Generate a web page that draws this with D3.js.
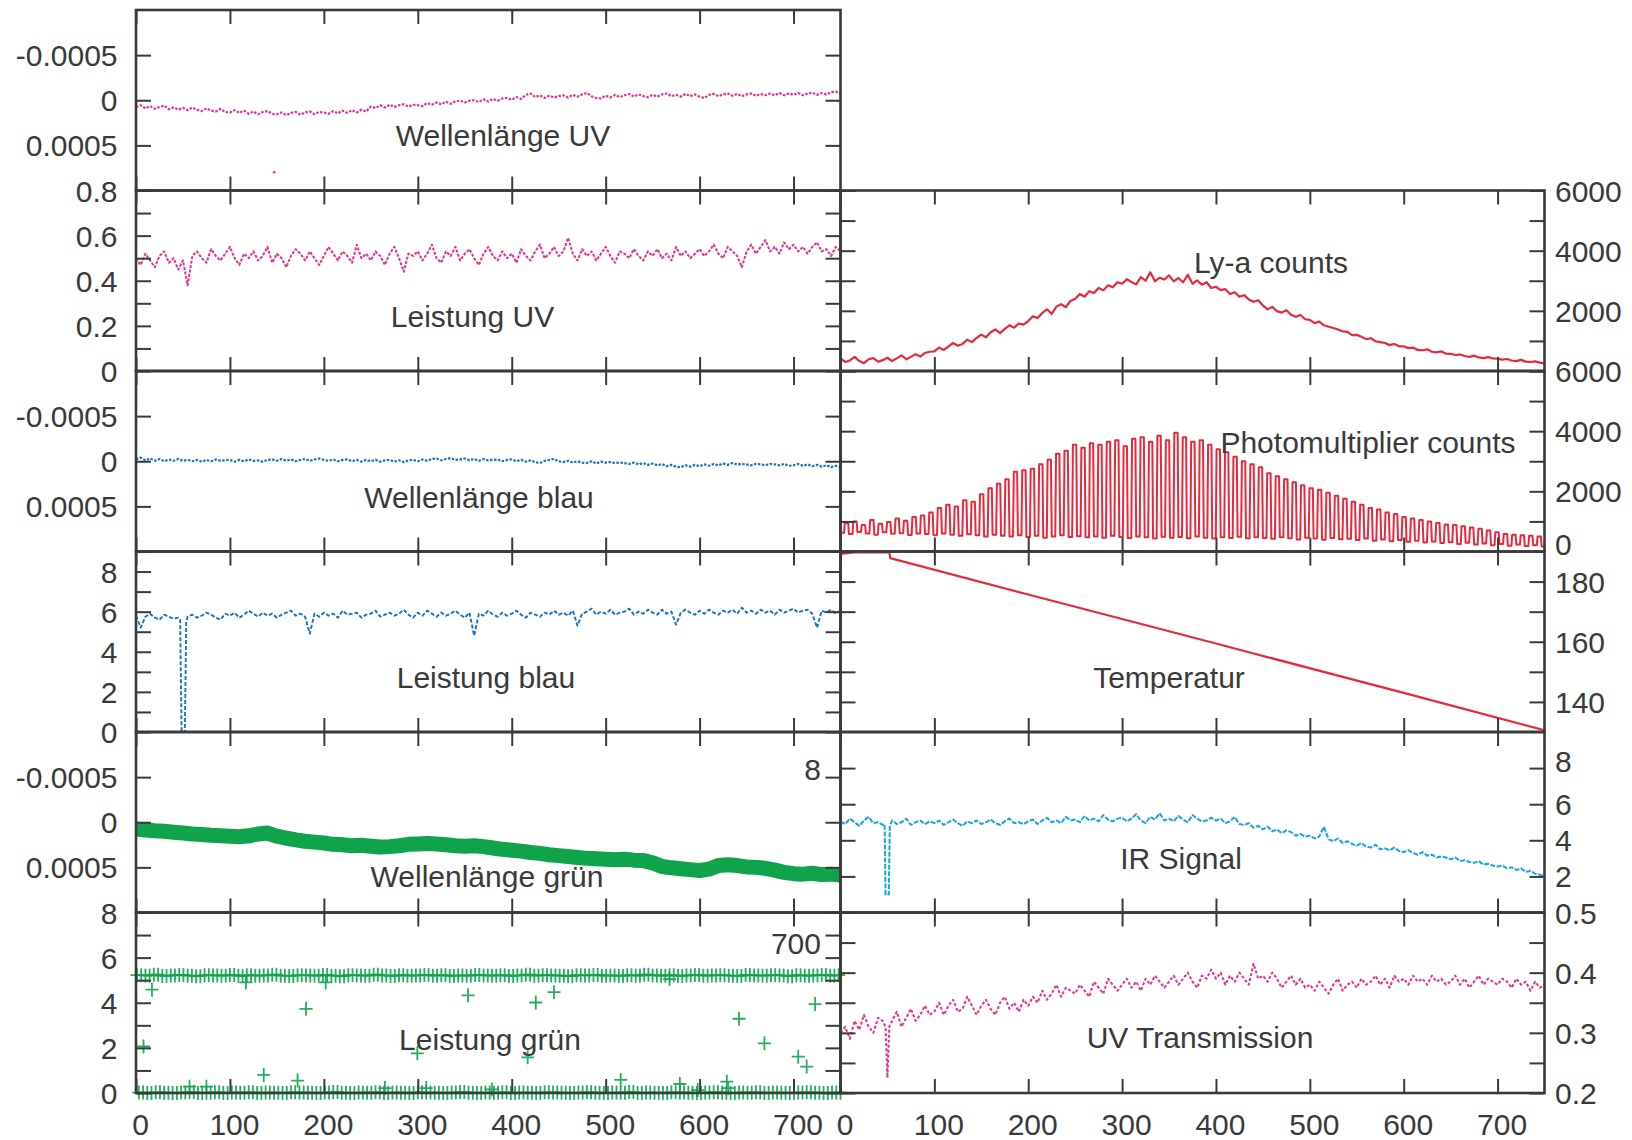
<!DOCTYPE html>
<html><head><meta charset="utf-8">
<script src="https://cdn.jsdelivr.net/npm/d3@7"></script>
<style>
body{margin:0;background:#fff}
svg{display:block}
text{font-family:"Liberation Sans",Arial,Helvetica,sans-serif;fill:#3a3a3a}
</style></head>
<body><svg id="c" width="1632" height="1140"></svg>
<script>
// ---------------- DATA ----------------
const xTickValues = [0,100,200,300,400,500,600,700];
const STEP = 5;            // sample spacing of the gridded series (x units)
const PERIOD = 9;          // chopper period (x units)
const WL_UNIT = 1e-4;      // wavelength arrays are given in units of 1e-4

// Wellenlänge UV (×1e-4), x = 0,5,...,750
const wlUV = [
0.75,0.55,0.9,0.65,0.95,0.75,0.6,1.0,0.8,1.05,
0.85,1.1,0.8,1.05,1.2,0.9,1.15,1.25,0.95,1.3,
1.35,1.1,1.4,1.15,1.5,1.25,1.55,1.3,1.2,1.5,
1.55,1.35,1.65,1.4,1.3,1.6,1.35,1.25,1.55,1.3,
1.35,1.5,1.2,1.45,1.15,1.4,1.1,1.35,1.05,1.25,
0.7,0.85,0.55,0.8,0.5,0.75,0.55,0.45,0.7,0.5,
0.55,0.65,0.3,0.5,0.25,0.45,0.15,0.4,0.1,0.05,
0.25,0.05,0.0,0.2,-0.1,0.15,-0.15,0.05,-0.2,-0.25,
-0.05,-0.35,-0.15,-0.6,-0.75,-0.35,-0.55,-0.25,-0.5,-0.3,
-0.45,-0.55,-0.3,-0.6,-0.4,-0.65,-0.8,-0.45,-0.25,-0.2,
-0.5,-0.3,-0.6,-0.35,-0.55,-0.7,-0.4,-0.65,-0.45,-0.35,
-0.6,-0.4,-0.65,-0.75,-0.45,-0.6,-0.4,-0.7,-0.45,-0.65,
-0.4,-0.25,-0.6,-0.7,-0.45,-0.65,-0.75,-0.5,-0.7,-0.45,
-0.65,-0.75,-0.5,-0.7,-0.55,-0.75,-0.55,-0.8,-0.55,-0.75,
-0.6,-0.8,-0.55,-0.75,-0.85,-0.6,-0.8,-0.65,-0.9,-0.95,
-0.75];
const wlUVStray = [[147, 7.97]];

// Leistung UV, x = 0,5,...,750
const powUV = [
0.50,0.47,0.52,0.49,0.46,0.51,0.53,0.48,0.50,0.45,
0.49,0.38,0.51,0.53,0.50,0.48,0.54,0.51,0.49,0.52,
0.55,0.50,0.47,0.52,0.50,0.53,0.49,0.51,0.55,0.48,
0.52,0.50,0.46,0.51,0.54,0.52,0.49,0.53,0.50,0.47,
0.51,0.55,0.52,0.49,0.53,0.51,0.48,0.56,0.50,0.52,
0.49,0.53,0.51,0.47,0.52,0.55,0.50,0.44,0.52,0.51,
0.53,0.49,0.52,0.56,0.50,0.48,0.53,0.51,0.55,0.49,
0.52,0.54,0.50,0.47,0.52,0.55,0.51,0.49,0.53,0.50,
0.52,0.48,0.54,0.51,0.49,0.53,0.56,0.50,0.52,0.55,
0.51,0.53,0.59,0.52,0.49,0.54,0.51,0.53,0.49,0.52,
0.55,0.51,0.48,0.53,0.52,0.50,0.54,0.51,0.49,0.53,
0.51,0.54,0.50,0.52,0.49,0.55,0.51,0.53,0.50,0.52,
0.54,0.51,0.53,0.56,0.52,0.50,0.55,0.53,0.51,0.46,
0.53,0.56,0.52,0.55,0.58,0.53,0.55,0.52,0.57,0.54,
0.56,0.53,0.55,0.52,0.55,0.57,0.53,0.54,0.51,0.55,
0.53];

// Wellenlänge blau (×1e-4), x = 0,5,...,750
const wlBlue = [
-0.2,-0.4,-0.1,-0.3,-0.05,-0.25,0.0,-0.2,-0.05,-0.25,
-0.05,-0.15,0.0,-0.15,0.05,-0.15,0.0,-0.2,-0.05,-0.1,
-0.15,0.05,-0.15,0.0,-0.2,-0.05,-0.1,0.05,-0.15,-0.2,
-0.05,-0.25,-0.05,-0.2,0.0,-0.15,-0.25,-0.05,-0.2,-0.3,
-0.15,-0.05,-0.2,0.0,-0.15,-0.2,0.0,-0.15,0.05,-0.15,
0.0,-0.15,0.05,-0.1,-0.15,0.05,-0.1,0.1,-0.1,-0.15,
0.0,-0.2,-0.05,-0.25,-0.3,-0.1,-0.25,-0.35,-0.15,-0.2,
-0.3,-0.1,-0.25,-0.05,-0.25,-0.1,-0.15,-0.2,0.0,-0.15,
-0.2,0.0,-0.15,0.05,-0.1,0.1,0.2,-0.05,-0.15,-0.25,
0.0,0.1,-0.05,0.15,0.0,0.15,0.2,0.0,0.25,0.05,
0.15,0.1,0.2,0.15,0.2,0.3,0.15,0.35,0.2,0.4,
0.25,0.45,0.3,0.55,0.4,0.6,0.65,0.45,0.6,0.4,
0.55,0.35,0.5,0.3,0.45,0.25,0.4,0.2,0.35,0.3,
0.35,0.45,0.3,0.35,0.45,0.3,0.35,0.45,0.3,0.5,
0.45,0.3,0.5,0.35,0.55,0.4,0.6,0.45,0.65,0.5,
0.65];

// Leistung blau, x = 0,5,...,750 (+ the drop near x = 50)
const powBlue = [
5.8,5.2,5.75,5.9,5.7,5.6,5.85,5.75,5.65,5.7,
0,5.75,5.85,5.7,5.8,5.95,5.85,5.7,5.6,5.9,
5.8,5.95,5.7,5.85,6.05,5.9,5.75,5.95,5.8,5.9,
5.7,5.85,5.95,6.05,5.8,5.9,5.75,4.9,5.9,5.75,
5.95,5.8,5.9,5.7,6.05,5.85,5.9,5.95,5.7,5.85,
5.9,6.05,5.75,5.85,5.95,5.8,5.9,6.1,5.85,5.7,
5.95,5.8,6.05,5.9,5.75,5.95,5.8,5.9,6.05,5.85,
5.7,5.95,4.8,5.9,5.8,6.05,5.85,5.75,5.95,5.8,
5.9,6.05,5.85,5.7,5.95,5.85,5.75,5.95,5.85,6.05,
5.85,5.95,5.8,6.05,5.3,5.9,6.0,6.15,5.85,6.0,
5.9,6.1,5.85,5.95,6.0,6.15,5.85,6.0,5.9,6.1,
5.95,5.85,6.1,5.9,6.0,5.35,5.95,6.1,5.95,5.85,
6.05,5.9,6.1,5.95,5.85,6.05,5.95,6.1,5.9,6.2,
5.95,6.05,5.9,6.1,5.95,6.05,5.85,6.1,5.95,6.05,
6.15,5.95,6.05,6.1,5.9,5.2,6.05,5.95,6.1,5.9,
6.05];
const powBlueDrop = [[47,5.6],[48.5,0],[52,0],[53.5,5.5]];

// Wellenlänge grün (×1e-4), x = 0,10,...,750 (band centre)
const wlGreen = [
0.75,0.85,0.95,1.0,1.1,1.2,1.3,1.35,1.45,1.5,
1.55,1.6,1.5,1.3,1.2,1.55,1.75,1.95,2.1,2.2,
2.3,2.45,2.5,2.6,2.55,2.65,2.75,2.7,2.6,2.45,
2.4,2.35,2.4,2.5,2.6,2.65,2.6,2.7,2.85,3.0,
3.1,3.2,3.35,3.45,3.6,3.7,3.8,3.9,4.0,4.05,
4.1,4.15,4.1,4.2,4.25,4.5,4.9,5.05,5.15,5.25,
5.35,5.2,4.8,4.7,4.8,4.95,5.0,5.1,5.3,5.55,
5.7,5.75,5.65,5.8,5.75,5.85];

// Leistung grün: "on" and "off" level per chopper cycle, plus stray points
const grOn = [
5.22,5.2,5.24,5.19,5.21,5.23,5.2,5.18,5.22,5.21,
5.2,5.23,5.19,5.22,5.2,5.21,5.24,5.2,5.19,5.22,
5.21,5.2,5.23,5.2,5.18,5.22,5.21,5.2,5.24,5.21,
5.19,5.22,5.2,5.21,5.23,5.2,5.22,5.19,5.21,5.2,
5.23,5.21,5.2,5.22,5.19,5.21,5.24,5.2,5.22,5.21,
5.2,5.18,5.22,5.21,5.23,5.2,5.21,5.19,5.22,5.2,
5.24,5.21,5.2,5.22,5.19,5.21,5.23,5.2,5.21,5.22,
5.2,5.19,5.23,5.21,5.2,5.22,5.21,5.18,5.22,5.2,
5.21,5.23,5.2,5.22];
const grOff = [
0.02,0.0,0.03,0.01,0.0,0.02,0.04,0.0,0.01,0.03,
0.0,0.02,0.01,0.03,0.0,0.02,0.01,0.0,0.03,0.02,
0.01,0.0,0.02,0.04,0.01,0.0,0.02,0.01,0.03,0.0,
0.02,0.01,0.0,0.03,0.02,0.01,0.0,0.02,0.04,0.01,
0.0,0.02,0.01,0.03,0.0,0.02,0.01,0.0,0.03,0.02,
0.01,0.0,0.02,0.03,0.01,0.0,0.02,0.01,0.04,0.0,
0.02,0.01,0.0,0.03,0.02,0.01,0.0,0.02,0.03,0.01,
0.0,0.02,0.01,0.03,0.0,0.02,0.01,0.0,0.02,0.03,
0.01,0.0,0.02,0.01];
const grStray = [[8,2.06],[17,4.58],[57,0.28],[75,0.28],[117,4.9],[136,0.8],[172,0.55],
[181,3.73],[202,4.9],[265,0.22],[299.5,1.76],[309,0.22],[353.5,4.33],[379,0.16],[417,1.58],
[425.6,4.01],[445,4.47],[516,0.58],[568,5.05],[579,0.4],[598,0.13],[629,0.5],[630.5,0.22],
[642,3.29],[669,2.2],[705,1.61],[714,1.17],[723,3.94]];

// Ly-a counts, x = 0,5,...,750
const lya = [
420,300,350,470,330,260,390,430,310,360,
440,330,420,520,390,470,560,480,600,640,
650,780,700,820,930,840,900,1040,960,1100,
1210,1120,1290,1380,1260,1400,1520,1440,1580,1540,
1660,1820,1760,1930,2050,1900,2140,2220,2120,2330,
2400,2560,2470,2650,2590,2760,2680,2850,2780,2950,
2900,3050,2960,2880,3120,3000,3280,2980,3100,3040,
3180,2980,3090,2950,3200,2900,3010,2870,2950,2760,
2800,2690,2720,2560,2620,2470,2520,2380,2300,2350,
2180,2050,2130,1990,1940,2020,1870,1800,1860,1720,
1700,1590,1640,1520,1470,1430,1380,1320,1300,1190,
1200,1140,1060,1090,990,960,930,860,900,820,
820,760,780,700,690,720,640,620,650,580,
570,530,550,500,470,510,450,430,460,420,
410,380,400,350,330,370,310,300,320,280,
250];

// Photomultiplier counts: high and low level per chopper cycle
const pmHigh = [
950,1000,880,1050,920,980,1100,1020,1150,1200,
1300,1450,1550,1500,1700,1650,1900,2100,2250,2400,
2650,2700,2750,2900,3050,3250,3350,3550,3450,3600,
3550,3650,3700,3500,3750,3800,3650,3850,3700,3950,
3800,3650,3700,3550,3400,3300,3150,3000,2900,2800,
2600,2500,2400,2300,2200,2100,2050,1950,1850,1750,
1650,1550,1450,1400,1300,1250,1150,1100,1050,1000,
950,900,880,840,800,760,700,640,580,560,
540,520,500,480];
const pmLow = [
620,580,650,600,560,640,590,610,550,600,
580,540,600,560,520,570,540,500,560,520,
500,540,480,520,460,500,540,480,510,470,
500,460,520,480,450,500,470,430,490,460,
480,440,500,460,430,470,450,490,440,470,
450,420,470,440,400,460,430,390,450,410,
420,380,430,360,400,340,380,320,360,300,
330,280,310,250,290,230,270,210,250,190,
230,180,210,170];

// Temperatur (x, °)
const temp = [[0,189.2],[14,189.7],[52,189.7],[53,187.8],[200,175.7],[400,159.4],[600,143.0],[750,130.6]];

// IR Signal, x = 0,5,...,750 (+ the drop near x = 50)
const ir = [
5.05,4.9,5.2,5.0,4.8,5.1,5.3,4.95,5.0,4.85,
1.0,5.1,4.9,5.0,5.2,4.85,5.0,5.1,4.9,5.05,
4.95,5.1,4.85,5.0,5.15,4.95,4.8,5.05,4.95,5.1,
4.9,5.0,5.15,4.95,4.85,5.05,5.2,4.95,5.0,4.9,
5.05,5.15,4.9,5.1,5.25,5.0,5.1,4.95,5.3,5.1,
5.15,5.0,5.35,5.1,5.2,5.05,5.4,5.15,5.05,5.2,
5.25,5.05,5.2,5.45,5.1,4.95,5.3,5.15,5.5,5.1,
5.2,5.05,5.35,5.15,5.0,5.4,5.2,5.05,5.1,5.25,
5.1,5.2,4.95,5.05,5.3,4.9,4.85,4.95,4.7,4.8,
4.6,4.75,4.5,4.6,4.4,4.55,4.45,4.25,4.35,4.2,
4.25,4.1,4.2,4.75,4.05,3.95,4.1,3.85,3.95,3.8,
3.7,3.85,3.65,3.6,3.75,3.5,3.55,3.45,3.6,3.4,
3.35,3.45,3.3,3.2,3.35,3.15,3.2,3.05,3.1,3.05,
2.95,3.05,2.85,2.9,2.8,2.75,2.85,2.65,2.7,2.6,
2.55,2.6,2.45,2.5,2.35,2.45,2.25,2.3,2.15,2.1,
2.0];
const irDrop = [[47,4.9],[48,1.0],[51.5,1.0],[52.5,4.8]];

// UV Transmission, x = 0,5,...,750 (+ the drop near x = 50)
const uvt = [
0.30,0.31,0.29,0.32,0.305,0.33,0.31,0.30,0.325,0.32,
0.225,0.32,0.335,0.31,0.325,0.34,0.32,0.33,0.345,0.33,
0.335,0.35,0.33,0.345,0.355,0.335,0.34,0.36,0.345,0.33,
0.345,0.355,0.34,0.33,0.35,0.36,0.34,0.35,0.335,0.355,
0.345,0.36,0.35,0.37,0.355,0.365,0.38,0.36,0.375,0.37,
0.365,0.38,0.37,0.36,0.385,0.375,0.365,0.39,0.38,0.37,
0.38,0.39,0.375,0.385,0.37,0.39,0.38,0.395,0.385,0.375,
0.385,0.395,0.38,0.39,0.40,0.385,0.375,0.395,0.39,0.405,
0.39,0.40,0.38,0.395,0.385,0.40,0.39,0.38,0.415,0.39,
0.395,0.385,0.40,0.39,0.375,0.385,0.395,0.38,0.39,0.375,
0.38,0.37,0.385,0.375,0.365,0.38,0.39,0.37,0.38,0.385,
0.375,0.39,0.38,0.385,0.395,0.38,0.39,0.375,0.395,0.385,
0.39,0.38,0.395,0.385,0.39,0.38,0.395,0.385,0.39,0.38,
0.385,0.395,0.38,0.39,0.375,0.385,0.395,0.38,0.39,0.385,
0.38,0.39,0.385,0.375,0.39,0.38,0.385,0.37,0.385,0.375,
0.38];
const uvtDrop = [[48,0.31],[52,0.31]];

// axis ticks / labels
const wlTicks = [-0.0005, 0, 0.0005];
const powUVTicks = [0,0.1,0.2,0.3,0.4,0.5,0.6,0.7,0.8], powUVLabels = [0,0.2,0.4,0.6,0.8];
const powBlueTicks = [0,1,2,3,4,5,6,7,8,9], powBlueLabels = [0,2,4,6,8];
const powGreenTicks = [0,1,2,3,4,5,6,7,8], powGreenLabels = [0,2,4,6,8];
const countTicks = [0,1000,2000,3000,4000,5000,6000];
const lyaLabels = [2000,4000,6000], pmLabels = [0,2000,4000,6000];
const tempTicks = [140,150,160,170,180,190], tempLabels = [140,160,180];
const irTicks = [2,4,6,8], irLabels = [2,4,6,8];
const uvtTicks = [0.2,0.25,0.3,0.35,0.4,0.45,0.5], uvtLabels = [0.2,0.3,0.4,0.5];

// ---------------- LAYOUT ----------------
const svg = d3.select("#c");
const COLX = [[136,840.5],[840.5,1544.5]];
const ROWY = [10,190.5,371,551.5,732,912.5,1093];
const FONT = 30, AXC = "#3a3a3a";
const PINK="#e2348e", BLUE="#1b72bd", CYAN="#18a6dc", RED="#e62a3a", GREEN="#0fa44c";

const grid = (arr, step) => arr.map((v,i)=>[i*step, v]);
const merged = (a,b) => a.concat(b).sort((p,q)=>p[0]-q[0]);

function makePanel(cfg){
  const [x0,x1] = COLX[cfg.col], y0 = ROWY[cfg.row], y1 = ROWY[cfg.row+1];
  const x = d3.scaleLinear().domain([0,750]).range([x0,x1]);
  const y = d3.scaleLinear().domain(cfg.dom).range(cfg.inv ? [y0,y1] : [y1,y0]);
  const g = svg.append("g");
  const cid = "clip"+cfg.id;
  svg.append("clipPath").attr("id",cid).append("rect")
    .attr("x",x0).attr("y",y0).attr("width",x1-x0).attr("height",y1-y0);
  const data = g.append("g").attr("clip-path",`url(#${cid})`);
  cfg.draw(data, x, y, g);
  const tk = (sel)=>{ sel.select(".domain").remove(); sel.selectAll("line").attr("stroke",AXC).attr("stroke-width",2); sel.selectAll("text").remove(); };
  g.append("g").attr("transform",`translate(${x0},0)`).call(d3.axisLeft(y).tickValues(cfg.ticks).tickSize(-15)).call(tk);
  g.append("g").attr("transform",`translate(${x1},0)`).call(d3.axisRight(y).tickValues(cfg.ticks).tickSize(-15)).call(tk);
  g.append("g").attr("transform",`translate(0,${y0})`).call(d3.axisTop(x).tickValues(xTickValues).tickSize(-14)).call(tk);
  g.append("g").attr("transform",`translate(0,${y1})`).call(d3.axisBottom(x).tickValues(xTickValues).tickSize(-14)).call(tk);
  g.append("rect").attr("x",x0).attr("y",y0).attr("width",x1-x0).attr("height",y1-y0)
    .attr("fill","none").attr("stroke",AXC).attr("stroke-width",2.6);
  const lab = cfg.col===0
    ? d3.axisLeft(y).tickValues(cfg.labels).tickSize(0).tickPadding(18.5).tickFormat(d=>String(d))
    : d3.axisRight(y).tickValues(cfg.labels).tickSize(0).tickPadding(10.5).tickFormat(d=>String(d));
  const lg = g.append("g").attr("transform",`translate(${cfg.col===0?x0:x1},0)`).call(lab);
  lg.select(".domain").remove();
  lg.attr("font-size",null).attr("font-family",null);
  lg.selectAll("text").attr("font-size",FONT).attr("fill","#3a3a3a").attr("dy","0.35em")
    .attr("transform", d => cfg.labelShift && cfg.labelShift[d] ? `translate(0,${cfg.labelShift[d]})` : null);
  g.append("text").attr("x",cfg.tc[0]).attr("y",cfg.tc[1]).attr("dy","0.35em")
    .attr("text-anchor","middle").attr("font-size",FONT).text(cfg.title);
  if (cfg.row===5){
    g.selectAll(null).data(xTickValues).enter().append("text")
      .attr("x",d=>x(d)+4.5).attr("y",1124).attr("dy","0.35em")
      .attr("text-anchor","middle").attr("font-size",FONT).text(d=>d);
  }
}

const pathLine = (sel, pts, x, y, color, w, dash) => sel.append("path")
  .attr("d", d3.line().x(d=>x(d[0])).y(d=>y(d[1]))(pts))
  .attr("fill","none").attr("stroke",color).attr("stroke-width",w)
  .attr("stroke-dasharray",dash||null).attr("stroke-linejoin","round");

const panels = [
 {id:"wlUV",col:0,row:0,dom:[-0.001,0.001],inv:true,ticks:wlTicks,labels:wlTicks,title:"Wellenlänge UV",tc:[503,135],
  draw:(s,x,y)=>{ pathLine(s, grid(wlUV,STEP).map(d=>[d[0],d[1]*WL_UNIT]), x,y,PINK,2.2,"2.5,1.5");
    s.selectAll(null).data(wlUVStray).enter().append("circle").attr("cx",d=>x(d[0])).attr("cy",d=>y(d[1]*WL_UNIT)).attr("r",1.3).attr("fill",PINK); }},
 {id:"powUV",col:0,row:1,dom:[0,0.8],ticks:powUVTicks,labels:powUVLabels,title:"Leistung UV",tc:[472.5,316.5],
  draw:(s,x,y)=>pathLine(s, grid(powUV,STEP), x,y,PINK,2,"3,1.5")},
 {id:"wlBlue",col:0,row:2,dom:[-0.001,0.001],inv:true,ticks:wlTicks,labels:wlTicks,title:"Wellenlänge blau",tc:[479,497.5],
  draw:(s,x,y)=>pathLine(s, grid(wlBlue,STEP).map(d=>[d[0],d[1]*WL_UNIT]), x,y,BLUE,2.2,"2.5,1.5")},
 {id:"powBlue",col:0,row:3,dom:[0,9],ticks:powBlueTicks,labels:powBlueLabels,title:"Leistung blau",tc:[486,677.5],
  draw:(s,x,y)=>pathLine(s, merged(grid(powBlue,STEP),powBlueDrop), x,y,BLUE,1.9,"4,2")},
 {id:"wlGreen",col:0,row:4,dom:[-0.001,0.001],inv:true,ticks:wlTicks,labels:wlTicks,title:"Wellenlänge grün",tc:[487,876],
  draw:(s,x,y)=>{ pathLine(s, grid(wlGreen,10).map(d=>[d[0],d[1]*WL_UNIT]), x,y,GREEN,15).attr("stroke-linecap","round"); }},
 {id:"powGreen",col:0,row:5,dom:[0,8],ticks:powGreenTicks,labels:powGreenLabels,title:"Leistung grün",tc:[490,1039],
  draw:(s,x,y,g)=>{
    const pts=[];
    grOn.forEach((v,i)=>{ pts.push([i*PERIOD+1,v],[i*PERIOD+5.5,v]); });
    grOff.forEach((v,i)=>{ pts.push([i*PERIOD+3,v],[i*PERIOD+7.5,v]); });
    grStray.forEach(p=>pts.push(p));
    g.append("g").selectAll("path").data(pts.filter(p=>p[0]<=750)).enter().append("path")
      .attr("d",d=>`M${x(d[0])-6.5},${y(d[1])}h13M${x(d[0])},${y(d[1])-7}v14`)
      .attr("stroke",GREEN).attr("stroke-width",1.8).attr("fill","none").attr("opacity",0.9);
  }},
 {id:"lya",col:1,row:1,dom:[0,6000],ticks:countTicks,labels:lyaLabels,title:"Ly-a counts",tc:[1271,262],
  draw:(s,x,y)=>pathLine(s, grid(lya,STEP), x,y,RED,2.2)},
 {id:"pm",col:1,row:2,dom:[0,6000],ticks:countTicks,labels:pmLabels,labelShift:{0:-8},title:"Photomultiplier counts",tc:[1368,442],
  draw:(s,x,y)=>{ const pts=[]; pmHigh.forEach((h,i)=>{const c=i*PERIOD,l=pmLow[i]; pts.push([c,l],[c+3.8,l],[c+4.6,h],[c+8.2,h]);});
    pathLine(s, pts, x,y,RED,2); }},
 {id:"temp",col:1,row:3,dom:[130,190],ticks:tempTicks,labels:tempLabels,title:"Temperatur",tc:[1169,677.5],
  draw:(s,x,y)=>pathLine(s, temp, x,y,RED,2.2)},
 {id:"ir",col:1,row:4,dom:[0,10],ticks:irTicks,labels:irLabels,labelShift:{8:-7},title:"IR Signal",tc:[1181,858.6],
  draw:(s,x,y)=>pathLine(s, merged(grid(ir,STEP),irDrop), x,y,CYAN,2,"5,1.5")},
 {id:"uvt",col:1,row:5,dom:[0.2,0.5],ticks:uvtTicks,labels:uvtLabels,title:"UV Transmission",tc:[1200,1037.7],
  draw:(s,x,y)=>pathLine(s, merged(grid(uvt,STEP),uvtDrop), x,y,PINK,2,"3,2")},
];
panels.forEach(makePanel);

// stray tick labels present in the original figure
svg.append("text").attr("x",821).attr("y",769).attr("dy","0.35em").attr("text-anchor","end").attr("font-size",FONT).text("8");
svg.append("text").attr("x",821).attr("y",943).attr("dy","0.35em").attr("text-anchor","end").attr("font-size",FONT).text("700");
</script></body></html>
